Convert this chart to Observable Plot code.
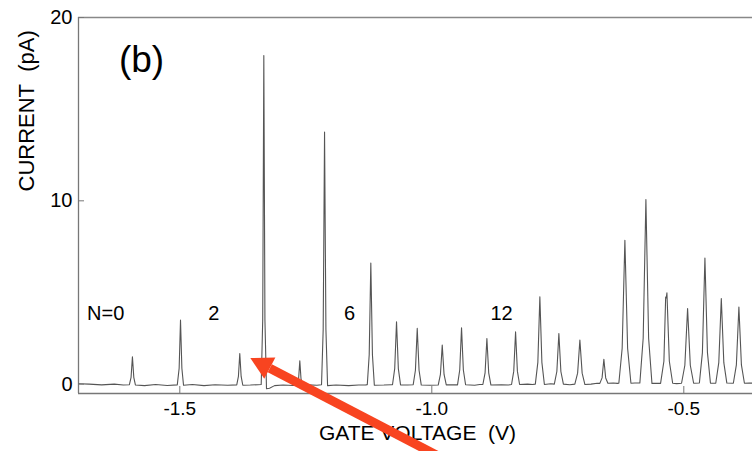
<!DOCTYPE html>
<html><head><meta charset="utf-8">
<script src="https://cdn.jsdelivr.net/npm/d3@7"></script>
<script src="https://cdn.jsdelivr.net/npm/@observablehq/plot@0.6"></script>
<style>body{margin:0;background:#fff}</style>
</head><body><div id="chart"></div>
<script>
// axis extents and ticks
const xDomain = [-1.701, -0.3637];
const yDomain = [-0.51, 20];
const xTicks = [-1.5, -1.0, -0.5];
const xTickLabels = ["-1.5", "-1.0", "-0.5"];
const yTicks = [0, 10, 20];
const yTickLabels = ["0", "10", "20"];

// measured trace: [gate voltage (V), current (pA)]
const trace = [
  [-1.700, 0.02], [-1.680, 0.00], [-1.655, -0.04], [-1.630, 0.00], [-1.612, -0.05],
  [-1.600, -0.03], [-1.5967, 0.37], [-1.594, 1.49], [-1.5913, 0.37], [-1.588, -0.05],
  [-1.570, -0.08], [-1.548, -0.02], [-1.525, -0.07],
  [-1.505, -0.04], [-1.5013, 0.87], [-1.4986, 3.49], [-1.4959, 0.87], [-1.4926, -0.06],
  [-1.475, -0.02], [-1.452, -0.08], [-1.430, -0.03], [-1.405, -0.06],
  [-1.387, -0.04], [-1.3837, 0.42], [-1.381, 1.67], [-1.3783, 0.42], [-1.375, -0.06],
  [-1.360, -0.05], [-1.345, -0.03],
  [-1.3385, -0.02], [-1.3355, 3.5], [-1.3333, 17.93], [-1.3311, 3.5], [-1.328, -0.25],
  [-1.322, -0.22], [-1.312, -0.08], [-1.295, -0.05], [-1.275, -0.07],
  [-1.2669, -0.04], [-1.2642, 0.32], [-1.2619, 1.27], [-1.2596, 0.32], [-1.2569, -0.05],
  [-1.245, -0.04], [-1.228, -0.06],
  [-1.2188, -0.03], [-1.2155, 3.0], [-1.2128, 13.75], [-1.2101, 3.0], [-1.2068, -0.08],
  [-1.190, -0.05], [-1.165, -0.08], [-1.145, -0.05], [-1.131, -0.04],
  [-1.128, -0.03], [-1.1242, 1.6], [-1.121, 6.61], [-1.1178, 1.6], [-1.114, -0.06],
  [-1.095, -0.05], [-1.080, -0.03],
  [-1.078, -0.03], [-1.0736, 0.85], [-1.070, 3.40], [-1.0664, 0.85], [-1.062, -0.04],
  [-1.048, -0.05],
  [-1.0369, -0.03], [-1.0325, 0.76], [-1.0289, 3.04], [-1.0253, 0.76], [-1.0209, -0.05],
  [-1.004, -0.06],
  [-0.9873, -0.05], [-0.9829, 0.53], [-0.9793, 2.13], [-0.9757, 0.53], [-0.9713, -0.04],
  [-0.958, -0.03],
  [-0.949, -0.04], [-0.9446, 0.77], [-0.941, 3.07], [-0.9374, 0.77], [-0.933, -0.03],
  [-0.915, -0.06], [-0.905, -0.02],
  [-0.8987, -0.02], [-0.8943, 0.62], [-0.8907, 2.49], [-0.8871, 0.62], [-0.8827, -0.05],
  [-0.862, -0.03], [-0.848, -0.05],
  [-0.8418, -0.02], [-0.8374, 0.71], [-0.8338, 2.85], [-0.8302, 0.71], [-0.8258, -0.02],
  [-0.810, 0.00], [-0.800, -0.02],
  [-0.7946, 0.00], [-0.7896, 1.19], [-0.7856, 4.76], [-0.7816, 1.19], [-0.7766, -0.02],
  [-0.764, 0.02],
  [-0.7569, 0.00], [-0.7519, 0.69], [-0.7479, 2.76], [-0.7439, 0.69], [-0.7389, 0.00],
  [-0.726, -0.03],
  [-0.7162, 0.00], [-0.7107, 0.60], [-0.7062, 2.40], [-0.7017, 0.60], [-0.6962, -0.02],
  [-0.684, 0.00], [-0.672, 0.05],
  [-0.6666, 0.04], [-0.6622, 0.34], [-0.6586, 1.36], [-0.6550, 0.34], [-0.6506, 0.05],
  [-0.640, 0.06], [-0.632, 0.04],
  [-0.6289, 0.05], [-0.6223, 1.96], [-0.6169, 7.85], [-0.6115, 1.96], [-0.6049, 0.05],
  [-0.597, 0.06],
  [-0.5872, 0.06], [-0.5806, 2.50], [-0.5752, 10.07], [-0.5698, 2.50], [-0.5632, 0.04],
  [-0.555, 0.05],
  [-0.5461, 0.04], [-0.5395, 1.25], [-0.5360, 4.75], [-0.5348, 4.70], [-0.5335, 4.98], [-0.5287, 1.25], [-0.5221, 0.05],
  [-0.514, 0.03],
  [-0.5045, 0.05], [-0.4979, 1.03], [-0.4925, 4.13], [-0.4871, 1.03], [-0.4805, 0.05],
  [-0.4691, 0.06], [-0.4631, 1.72], [-0.4581, 6.88], [-0.4531, 1.72], [-0.4471, 0.05],
  [-0.4366, 0.05], [-0.4306, 1.17], [-0.4256, 4.67], [-0.4206, 1.17], [-0.4146, 0.06],
  [-0.4017, 0.05], [-0.3957, 1.05], [-0.3907, 4.21], [-0.3857, 1.05], [-0.3797, 0.05],
  [-0.370, 0.06], [-0.360, 0.05]
];

// electron-number annotations
const nLabelText = ["N=0", "2", "6", "12"];
const nLabelV = [-1.647, -1.4327, -1.1632, -0.8616];
const nLabelI = [3.87, 3.87, 3.87, 3.87];

// panel label
const panelText = ["(b)"];
const panelV = [-1.576];
const panelI = [17.7];

// red arrow (tail -> base of head), in data units
const arrowTail = [-0.9906, -3.87];
const arrowHeadBase = [-1.3214, 0.872];

const font = "'Liberation Sans', Arial, Helvetica, sans-serif";
const red = "#f84420";

function arrowHead(color, context) {
  const ns = "http://www.w3.org/2000/svg";
  const doc = context && context.document ? context.document : document;
  const m = doc.createElementNS(ns, "marker");
  m.setAttribute("viewBox", "0 -12 24 24");
  m.setAttribute("markerWidth", 24);
  m.setAttribute("markerHeight", 24);
  m.setAttribute("markerUnits", "userSpaceOnUse");
  m.setAttribute("orient", "auto");
  m.setAttribute("refX", 0);
  m.setAttribute("refY", 0);
  m.setAttribute("overflow", "visible");
  const p = doc.createElementNS(ns, "path");
  p.setAttribute("d", "M0,-12L22,0L0,12Z");
  p.setAttribute("fill", color);
  p.setAttribute("stroke", "none");
  m.appendChild(p);
  return m;
}

const chart = Plot.plot({
  width: 752,
  height: 451,
  marginLeft: 78,
  marginRight: 0,
  marginTop: 17,
  marginBottom: 58,
  style: {fontFamily: font, background: "white", color: "black", overflow: "visible"},
  x: {domain: xDomain},
  y: {domain: yDomain},
  marks: [
    Plot.ruleY([yDomain[1]], {stroke: "#888", strokeWidth: 1.6}),
    Plot.ruleY([yDomain[0]], {stroke: "#777", strokeWidth: 1.3}),
    Plot.ruleX([xDomain[0]], {stroke: "#777", strokeWidth: 1.3}),
    Plot.line(trace, {x: d => d[0], y: d => d[1], stroke: "#555", strokeWidth: 1.1, clip: true}),
    Plot.axisX(xTicks, {tickSize: -7, tickFormat: () => "", label: null, stroke: "#777"}),
    Plot.axisX(xTicks, {tickSize: 0, tickPadding: 8, tickFormat: d => xTickLabels[xTicks.indexOf(d)], fontSize: 19, label: null}),
    Plot.axisY(yTicks, {tickSize: -6, tickFormat: () => "", label: null, stroke: "#777"}),
    Plot.axisY(yTicks, {tickSize: 0, tickPadding: 6, tickFormat: d => yTickLabels[yTicks.indexOf(d)], fontSize: 20, label: null}),
    Plot.text(["CURRENT\u00a0\u00a0(pA)"], {frameAnchor: "left", dx: -52, dy: -14, rotate: -90, fontSize: 22}),
    Plot.text(["GATE VOLTAGE\u00a0\u00a0(V)"], {frameAnchor: "bottom", dx: 2, dy: 46, fontSize: 21}),
    Plot.text(nLabelText, {x: (d, i) => nLabelV[i], y: (d, i) => nLabelI[i], fontSize: 20}),
    Plot.text(panelText, {x: (d, i) => panelV[i], y: (d, i) => panelI[i], fontSize: 37}),
    Plot.link([0], {
      x1: () => arrowTail[0], y1: () => arrowTail[1],
      x2: () => arrowHeadBase[0], y2: () => arrowHeadBase[1],
      stroke: red, strokeWidth: 9, markerEnd: arrowHead
    })
  ]
});
document.getElementById("chart").appendChild(chart);
</script>
</body></html>
